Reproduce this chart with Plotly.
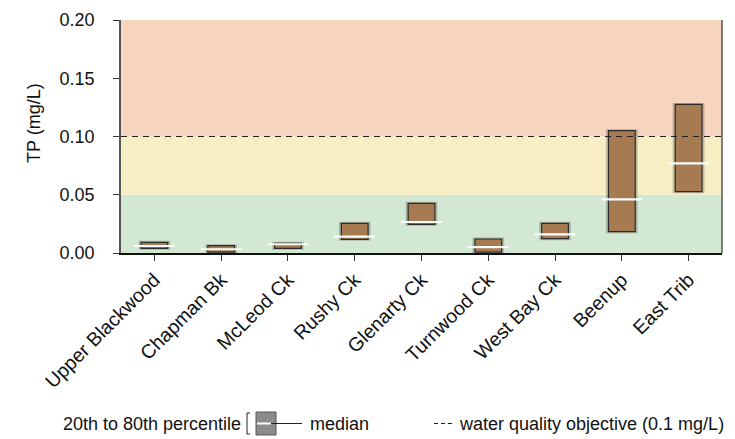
import plotly.graph_objects as go

sites = ["Upper Blackwood", "Chapman Bk", "McLeod Ck", "Rushy Ck", "Glenarty Ck",
         "Turnwood Ck", "West Bay Ck", "Beenup", "East Trib"]
p20 = [0.0040, 0.0008, 0.0040, 0.0117, 0.0246, 0.0008, 0.0123, 0.0183, 0.0526]
p80 = [0.0092, 0.0063, 0.0083, 0.0255, 0.0426, 0.0120, 0.0255, 0.1050, 0.1275]
median = [0.0060, 0.0032, 0.0075, 0.0140, 0.0266, 0.0051, 0.0160, 0.0460, 0.0769]

objective = 0.1
band_edges = [0.0, 0.05, 0.10, 0.20]
band_colors = ["#d3e8d2", "#f8eec3", "#f7d4bd"]
y_ticks = [0.0, 0.05, 0.10, 0.15, 0.20]

FONT = "Liberation Sans, Arial, sans-serif"

# page body has an 8px margin; work in screen coords and convert
OFF = 8
SW, SH = 735, 439
W, H = SW - OFF, SH - OFF
PL, PR, PT, PB = 121, 722, 20, 253   # plot area in screen coords
L, T = PL - OFF, PT - OFF
R = W - (PR - OFF)
B = H - (PB - OFF)
pw, ph = PR - PL, PB - PT

def px(x):
    return (x - PL) / pw

def py(y):
    return (PB - y) / ph

fig = go.Figure()

spans = [a - b for a, b in zip(p80, p20)]
# soft shadow
fig.add_trace(go.Bar(
    x=sites, y=spans, base=p20, width=0.43,
    marker=dict(color="rgba(0,0,0,0)", line=dict(color="rgba(90,90,90,0.35)", width=3)),
    hoverinfo="skip", showlegend=False))
fig.add_trace(go.Bar(
    x=sites, y=spans, base=p20, width=0.40,
    marker=dict(color="#a67b51", line=dict(color="#2b2b2b", width=1.2)),
    showlegend=False))
fig.add_trace(go.Scatter(
    x=sites, y=median, mode="markers",
    marker=dict(symbol="line-ew", size=29, line=dict(color="white", width=2.2)),
    showlegend=False))

shapes = []
for i in range(3):
    shapes.append(dict(type="rect", xref="paper", yref="y", x0=0, x1=1,
                       y0=band_edges[i], y1=band_edges[i + 1],
                       fillcolor=band_colors[i], line=dict(width=0), layer="below"))
shapes.append(dict(type="line", xref="paper", yref="y", x0=0, x1=1,
                   y0=objective, y1=objective,
                   line=dict(color="#222", width=1, dash="6px,5px")))
shapes.append(dict(type="line", xref="paper", yref="paper", x0=1, x1=1, y0=0, y1=1,
                   line=dict(color="#555", width=1.5)))

LY = 423.5
shapes += [
    dict(type="path", xref="paper", yref="paper",
         path=f"M {px(250)} {py(413)} L {px(247)} {py(413)} L {px(247)} {py(434)} L {px(250)} {py(434)}",
         line=dict(color="#222", width=1)),
    dict(type="rect", xref="paper", yref="paper", x0=px(256), x1=px(276), y0=py(412), y1=py(435),
         fillcolor="#8c8c8c", line=dict(color="#555", width=1)),
    dict(type="line", xref="paper", yref="paper", x0=px(257), x1=px(271), y0=py(LY), y1=py(LY),
         line=dict(color="white", width=2)),
    dict(type="line", xref="paper", yref="paper", x0=px(271), x1=px(302), y0=py(LY), y1=py(LY),
         line=dict(color="#222", width=1)),
    dict(type="line", xref="paper", yref="paper", x0=px(434), x1=px(453), y0=py(LY), y1=py(LY),
         line=dict(color="#222", width=1, dash="4px,3px")),
]

LF = dict(family=FONT, size=18, color="#111")
annotations = [
    dict(xref="paper", yref="paper", x=px(243), y=py(LY), xanchor="right", yanchor="middle",
         text="20th to 80th percentile", showarrow=False, font=LF),
    dict(xref="paper", yref="paper", x=px(308), y=py(LY), xanchor="left", yanchor="middle",
         text="median", showarrow=False, font=LF),
    dict(xref="paper", yref="paper", x=px(457), y=py(LY), xanchor="left", yanchor="middle",
         text="water quality objective (0.1 mg/L)", showarrow=False, font=LF),
    dict(xref="paper", yref="paper", x=px(34), y=py(123), xanchor="center", yanchor="middle",
         text="TP (mg/L)", textangle=-90, showarrow=False,
         font=dict(family=FONT, size=18, color="#111")),
]

fig.update_layout(
    width=W, height=H,
    margin=dict(l=L, r=R, t=T, b=B, autoexpand=False),
    plot_bgcolor="white", paper_bgcolor="white",
    barmode="overlay",
    shapes=shapes, annotations=annotations,
    font=dict(family=FONT, color="#111"),
    xaxis=dict(showgrid=False, zeroline=False, showline=True, linecolor="#111", linewidth=1.5,
               ticks="outside", ticklen=6, tickcolor="#333", tickangle=-45, automargin=False,
               tickfont=dict(family=FONT, size=19.5, color="#111"), range=[-0.5, 8.5]),
    yaxis=dict(showgrid=False, zeroline=False, showline=True, linecolor="#555", linewidth=1.5,
               ticks="outside", ticklen=6, tickcolor="#333", range=[0, 0.2], automargin=False,
               ticklabelstandoff=15,
               tickvals=y_ticks, ticktext=[f"{v:.2f}" for v in y_ticks],
               tickfont=dict(family=FONT, size=18, color="#111")),
)

fig.write_html("out.html")
